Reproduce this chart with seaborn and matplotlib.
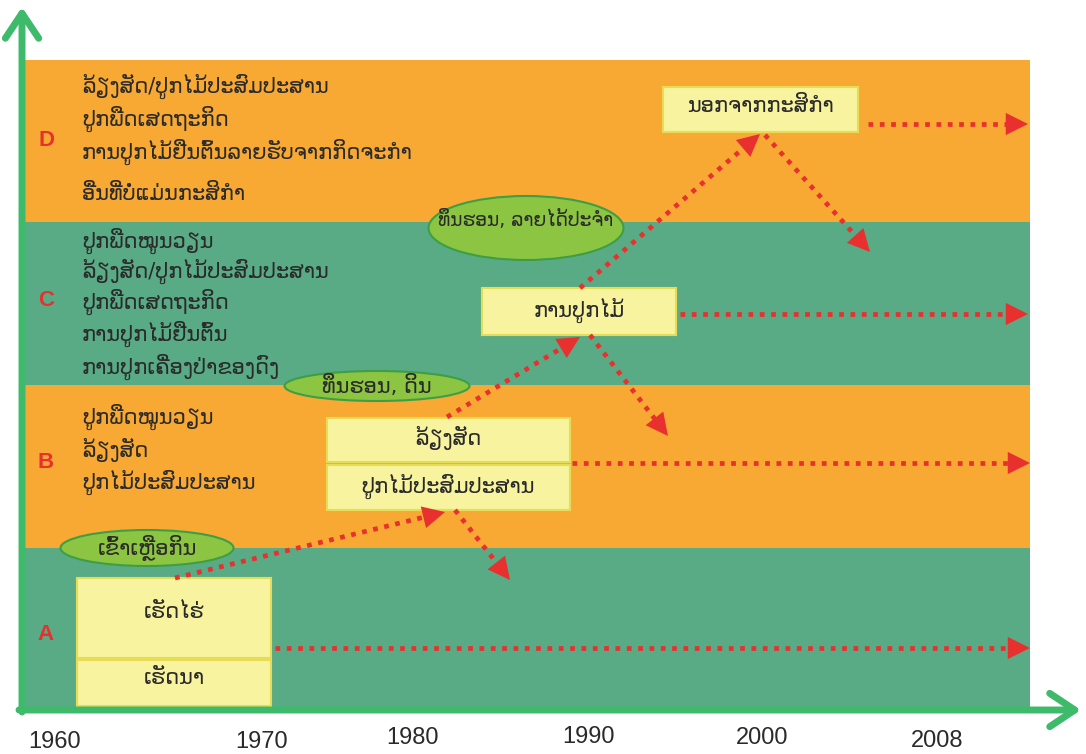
import matplotlib
matplotlib.use("Agg")
import matplotlib.pyplot as plt
import seaborn as sns
from matplotlib.patches import Rectangle, Ellipse

# --- data (pixel layout of the original diagram) ---
band_letters = ["D", "C", "B", "A"]
band_top = [60, 222, 385, 548]
band_bottom = [222, 385, 548, 708]
band_colors = ["#F8A934", "#59AB85", "#F8A934", "#59AB85"]
band_left, band_right = 25, 1030

side_lines = [
    ["ລ້ຽງສັດ/ປູກໄມ້ປະສົມປະສານ", "ປູກພືດເສດຖະກິດ",
     "ການປູກໄມ້ຢືນຕົ້ນລາຍຮັບຈາກກິດຈະກຳ", "ອື່ນທີ່ບໍ່ແມ່ນກະສິກຳ"],
    ["ປູກພືດໝູນວຽນ", "ລ້ຽງສັດ/ປູກໄມ້ປະສົມປະສານ", "ປູກພືດເສດຖະກິດ",
     "ການປູກໄມ້ຢືນຕົ້ນ", "ການປູກເຄື່ອງປ່າຂອງດົງ"],
    ["ປູກພືດໝູນວຽນ", "ລ້ຽງສັດ", "ປູກໄມ້ປະສົມປະສານ"],
    [],
]
side_y = [[86, 119, 152, 194], [241, 271, 302, 334, 367], [417, 450, 482], []]
letter_y = [140, 300, 463, 635]

box_labels = ["ເຮັດໄຮ່", "ເຮັດນາ", "ລ້ຽງສັດ", "ປູກໄມ້ປະສົມປະສານ", "ການປູກໄມ້", "ນອກຈາກກະສິກຳ"]
box_x0 = [77, 77, 327, 327, 482, 663]
box_x1 = [271, 271, 570, 570, 676, 858]
box_y0 = [578, 660, 418, 465, 288, 87]
box_y1 = [658, 706, 462, 510, 335, 132]
box_text_y = [612, 678, 438, 486, 310, 106]

oval_labels = ["ເຂົ້າເຫຼືອກິນ", "ທຶນຮອນ, ດິນ", "ທຶນຮອນ, ລາຍໄດ້ປະຈຳ"]
oval_cx = [147, 377, 526]
oval_cy = [548, 386, 228]
oval_w = [173, 185, 195]
oval_h = [36, 30, 64]
oval_fs = [15, 15, 13.5]

# dotted arrows: start -> end
arrow_x0 = [275, 175, 455, 572, 447, 590, 680, 580, 765, 868]
arrow_y0 = [648, 578, 510, 463, 417, 335, 314, 288, 135, 124]
arrow_x1 = [1030, 445, 510, 1030, 580, 668, 1028, 760, 870, 1028]
arrow_y1 = [648, 512, 580, 463, 337, 436, 314, 134, 252, 124]

years = ["1960", "1970", "1980", "1990", "2000", "2008"]
year_x = [55, 262, 413, 588, 762, 937]
year_y = [742, 742, 738, 737, 738, 741]

RED = "#E8302E"
AXIS_GREEN = "#3DBA6A"
TXT = "#2a2a2a"
LAO = ["DejaVu Sans"]

sns.set_theme(style="white")
plt.rcParams["font.family"] = ["DejaVu Sans"]

fig = plt.figure(figsize=(10.86, 7.54), dpi=100)
ax = fig.add_axes([0, 0, 1, 1])
ax.set_xlim(0, 1086)
ax.set_ylim(754, 0)
ax.axis("off")

# bands
for top, bot, col in zip(band_top, band_bottom, band_colors):
    ax.add_patch(Rectangle((band_left, top), band_right - band_left, bot - top,
                           facecolor=col, edgecolor="none", zorder=1))

# letters and left texts
for letter, ly, lines, ys in zip(band_letters, letter_y, side_lines, side_y):
    ax.text(46, ly, letter, color=RED, fontsize=16, fontweight="bold",
            family=["Liberation Sans", "DejaVu Sans"], ha="center", va="center", zorder=5)
    for t, y in zip(lines, ys):
        ax.text(82, y, t, fontsize=15, family=LAO, color=TXT,
                ha="left", va="center", zorder=5)

# boxes
for lab, x0, x1, y0, y1, ty in zip(box_labels, box_x0, box_x1, box_y0, box_y1, box_text_y):
    ax.add_patch(Rectangle((x0, y0), x1 - x0, y1 - y0, facecolor="#F7F39E",
                           edgecolor="#E6DC55", linewidth=1.5, zorder=3))
    ax.text((x0 + x1) / 2, ty, lab, fontsize=15, family=LAO, color=TXT,
            ha="center", va="center", zorder=5)

# ovals
for lab, cx, cy, w, h, fs in zip(oval_labels, oval_cx, oval_cy, oval_w, oval_h, oval_fs):
    ax.add_patch(Ellipse((cx, cy), w, h, facecolor="#8CC541", edgecolor="#3E9E45",
                         linewidth=1.5, zorder=3))
    ax.text(cx, cy - (8 if h > 50 else 0), lab, fontsize=fs, family=LAO,
            color=TXT, ha="center", va="center", zorder=5)

# dotted red arrows
for x0, y0, x1, y1 in zip(arrow_x0, arrow_y0, arrow_x1, arrow_y1):
    dx, dy = x1 - x0, y1 - y0
    n = (dx ** 2 + dy ** 2) ** 0.5
    ux, uy = dx / n, dy / n
    ax.plot([x0, x1 - ux * 12], [y0, y1 - uy * 12], color=RED, lw=3.4,
            linestyle=(0, (1.0, 1.4)), dash_capstyle="butt", zorder=4)
    ax.annotate("", xy=(x1, y1), xytext=(x1 - ux * 16, y1 - uy * 16),
                arrowprops=dict(arrowstyle="-|>,head_length=0.8,head_width=0.4",
                                color=RED, lw=0, mutation_scale=20,
                                shrinkA=0, shrinkB=0), zorder=4)

# axes arrows
ax.annotate("", xy=(22, 7), xytext=(22, 712),
            arrowprops=dict(arrowstyle="->,head_length=0.6,head_width=0.4",
                            color=AXIS_GREEN, lw=5, mutation_scale=30,
                            shrinkA=0, shrinkB=0), zorder=6)
ax.annotate("", xy=(1081, 710), xytext=(19, 710),
            arrowprops=dict(arrowstyle="->,head_length=0.6,head_width=0.4",
                            color=AXIS_GREEN, lw=5, mutation_scale=30,
                            shrinkA=0, shrinkB=0), zorder=6)

for y, x, yy in zip(years, year_x, year_y):
    ax.text(x, yy, y, fontsize=17, family=["Liberation Sans Narrow", "Liberation Sans"],
            color=TXT, ha="center", va="center")

fig.savefig("out.png", dpi=100)
